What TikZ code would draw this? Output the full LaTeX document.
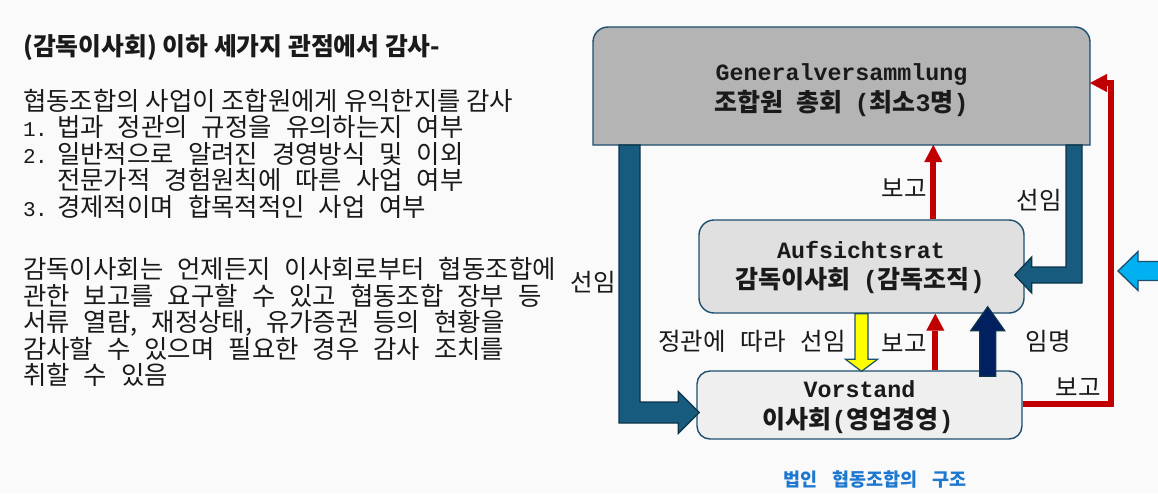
\documentclass[tikz,border=0pt]{standalone}
\usepackage{fontspec}
\usetikzlibrary{arrows.meta,calc}
\newfontfamily\kr{Noto Sans CJK KR}
\newfontfamily\mono{Liberation Mono}
\newcommand\setsp[1]{\spaceskip=#1em\relax}
\newcommand\hwd[1]{\makebox[12pt][l]{\mono\fontsize{21}{24}\selectfont #1}}
\newcommand\mb[1]{{\mono\bfseries #1}}
\definecolor{bgc}{HTML}{FAFAFA}
\definecolor{gvc}{HTML}{B4B4B4}
\definecolor{asc}{HTML}{E0E0E0}
\definecolor{vsc}{HTML}{EFEFEF}
\definecolor{boxc}{HTML}{1D4E6E}
\definecolor{tealc}{HTML}{175C7E}
\definecolor{teald}{HTML}{0E3448}
\definecolor{redc}{HTML}{C00000}
\definecolor{yelc}{HTML}{FFFF00}
\definecolor{navyc}{HTML}{002060}
\definecolor{cyanc}{HTML}{00B0F0}
\definecolor{capc}{HTML}{1E78CF}
\definecolor{txt}{HTML}{1A1A1A}
\begin{document}
\begin{tikzpicture}[x=1pt,y=-1pt,
  boxline/.style={draw=boxc, line width=1.4pt},
  rbox/.style={boxline, inner sep=0pt},
  tealarrow/.style={fill=tealc, draw=teald, line width=1.3pt, line join=miter},
  yelarrow/.style={fill=yelc, draw=boxc, line width=1.2pt},
  navyarrow/.style={fill=navyc, draw=teald, line width=1.2pt},
  cyanarrow/.style={fill=cyanc, draw=boxc, line width=1.3pt},
  redarrow/.style={draw=redc, line width=6pt, -{Triangle[length=17pt,width=18pt,line width=0.1pt]}},
  bodyf/.style={font=\fontsize{25.4}{28}\selectfont\kr\setsp{0.55}, anchor=base west, inner sep=0pt, text=txt},
  lat/.style={font=\fontsize{23.3}{26}\selectfont\mono\bfseries, anchor=base, inner sep=0pt, text=txt},
  krb/.style={font=\fontsize{25}{28}\selectfont\kr\bfseries\setsp{0.5}, anchor=base, inner sep=0pt, text=txt},
  lbl/.style={font=\fontsize{24.5}{28}\selectfont\kr\setsp{0.5}, inner sep=0pt, text=txt}
]
\useasboundingbox (0,0) rectangle (1158,493);
\fill[bgc] (0,0) rectangle (1158,493);

% ---------- left text ----------
\node[font=\fontsize{24.8}{28}\selectfont\kr\bfseries, anchor=base west, inner sep=0pt, text=txt] (t0) at (23,55.5) {(감독이사회) 이하 세가지 관점에서 감사-};
\node[font=\fontsize{25.4}{28}\selectfont\kr, anchor=base west, inner sep=0pt, text=txt] (t1) at (23,110.5) {협동조합의 사업이 조합원에게 유익한지를 감사};
\node[bodyf] (l1) at (23,136.5) {\hwd{1}\hwd{.}\hspace{10pt}법과 정관의 규정을 유의하는지 여부};
\node[bodyf] (l2) at (23,163.2) {\hwd{2}\hwd{.}\hspace{10pt}일반적으로 알려진 경영방식 및 이외};
\node[bodyf] (l3) at (23,189.9) {\hspace*{34pt}전문가적 경험원칙에 따른 사업 여부};
\node[bodyf] (l4) at (23,216.6) {\hwd{3}\hwd{.}\hspace{10pt}경제적이며 합목적적인 사업 여부};
\node[bodyf] (p1) at (23,278.5) {감독이사회는 언제든지 이사회로부터 협동조합에};
\node[bodyf] (p2) at (23,305) {관한 보고를 요구할 수 있고 협동조합 장부 등};
\node[bodyf] (p3) at (23,331.6) {서류 열람, 재정상태, 유가증권 등의 현황을};
\node[bodyf] (p4) at (23,358.2) {감사할 수 있으며 필요한 경우 감사 조치를};
\node[bodyf] (p5) at (23,384.8) {취할 수 있음};

% ---------- boxes ----------
\node[minimum width=497pt, minimum height=118pt, inner sep=0pt, outer sep=0pt] (gv) at (841.5,86) {};
\draw[boxline, fill=gvc] (gv.south west) -- ([yshift=-15pt]gv.north west)
  arc[start angle=180,end angle=90,radius=15pt] -- ([xshift=-15pt]gv.north east)
  arc[start angle=90,end angle=0,radius=15pt] -- (gv.south east) -- cycle;
\node[rbox, fill=asc, rounded corners=15pt, minimum width=325pt, minimum height=93pt] (as) at (861.5,266.5) {};
\node[rbox, fill=vsc, rounded corners=13pt, minimum width=325pt, minimum height=68pt] (vs) at (859.5,405) {};

% ---------- teal block arrows ----------
\coordinate (lA) at ($(gv.south west)+(26,0)$);
\coordinate (lT) at ($(vs.west)+(3,7.5)$);
\draw[tealarrow] (lA) -- ($(lA |- lT)+(0,10.5)$) -- ($(lT)+(-21,10.5)$) -- ($(lT)+(-21,21)$) -- (lT)
  -- ($(lT)+(-21,-21)$) -- ($(lT)+(-21,-10.5)$) -- ($(lA |- lT)+(21,-10.5)$) -- ($(lA)+(21,0)$) -- cycle;

\coordinate (rA) at ($(gv.south east)+(-24,0)$);
\coordinate (rT) at ($(as.east)+(-10,8.5)$);
\draw[tealarrow] (rA) -- ($(rA)+(16,0)$) -- ($(rA |- rT)+(16,8)$) -- ($(rT)+(17,8)$) -- ($(rT)+(17,18)$) -- (rT)
  -- ($(rT)+(17,-18)$) -- ($(rT)+(17,-8)$) -- ($(rA |- rT)+(0,-8)$) -- cycle;

% ---------- yellow ----------
\coordinate (yA) at (as.south);
\coordinate (yT) at ($(yA |- vs.north)+(0,1)$);
\draw[yelarrow] ($(yA)+(-6.5,0)$) -- ($(yT)+(-6.5,-12)$) -- ($(yT)+(-16,-12)$) -- (yT)
  -- ($(yT)+(16,-12)$) -- ($(yT)+(6.5,-12)$) -- ($(yA)+(6.5,0)$) -- cycle;

% ---------- navy ----------
\coordinate (nA) at ($(vs.north east)+(-35,6)$);
\coordinate (nT) at ($(nA |- as.south)+(0,-7)$);
\draw[navyarrow] ($(nA)+(-8,0)$) -- ($(nT)+(-8,24)$) -- ($(nT)+(-17,24)$) -- (nT)
  -- ($(nT)+(17,24)$) -- ($(nT)+(8,24)$) -- ($(nA)+(8,0)$) -- cycle;

% ---------- red ----------
\coordinate (r1s) at ($(as.north west)+(235,0)$);
\draw[redarrow] (r1s) -- (r1s |- gv.south);
\coordinate (r2s) at ($(vs.north west)+(239,0)$);
\draw[redarrow] (r2s) -- (r2s |- as.south);
\coordinate (r3s) at ($(vs.east)+(0,-1)$);
\coordinate (r3e) at ($(gv.north east)+(0,56)$);
\draw[redarrow] (r3s) -| ($(r3e)+(21,0)$) -- (r3e);

% ---------- cyan ----------
\coordinate (cT) at (1118,271);
\draw[cyanarrow] (cT) -- ++(20,-19.5) -- ++(0,10) -- ++(25,0) -- ++(0,19) -- ++(-25,0) -- ++(0,10) -- cycle;

% ---------- box texts ----------
\node[lat] (gvt1) at (841.5,80) {Generalversammlung};
\node[krb] (gvt2) at (841.5,111.5) {조합원 총회 \mb{(}최소\mb{3}명\mb{)}};
\node[lat] (ast1) at (861,258) {Aufsichtsrat};
\node[krb] (ast2) at (860,288.5) {감독이사회 \mb{(}감독조직\mb{)}};
\node[lat] (vst1) at (859.5,397) {Vorstand};
\node[krb] (vst2) at (858,428.5) {이사회\mb{(}영업경영\mb{)}};

% ---------- labels ----------
\node[lbl] (b1) at (904,188) {보고};
\node[lbl] (b2) at (904,343) {보고};
\node[lbl] (b3) at (1078,387) {보고};
\node[lbl] (s1) at (593,282) {선임};
\node[lbl] (s2) at (1039,200) {선임};
\node[lbl] (im) at (1048,341) {임명};
\node[lbl, font=\fontsize{24.5}{28}\selectfont\kr\setsp{0.6}] (jg) at (752,341) {정관에 따라 선임};
\node[font=\fontsize{18.5}{20}\selectfont\kr\bfseries\setsp{0.8}, text=capc, inner sep=0pt] (cap) at (875,480) {법인 협동조합의 구조};
\end{tikzpicture}
\end{document}
